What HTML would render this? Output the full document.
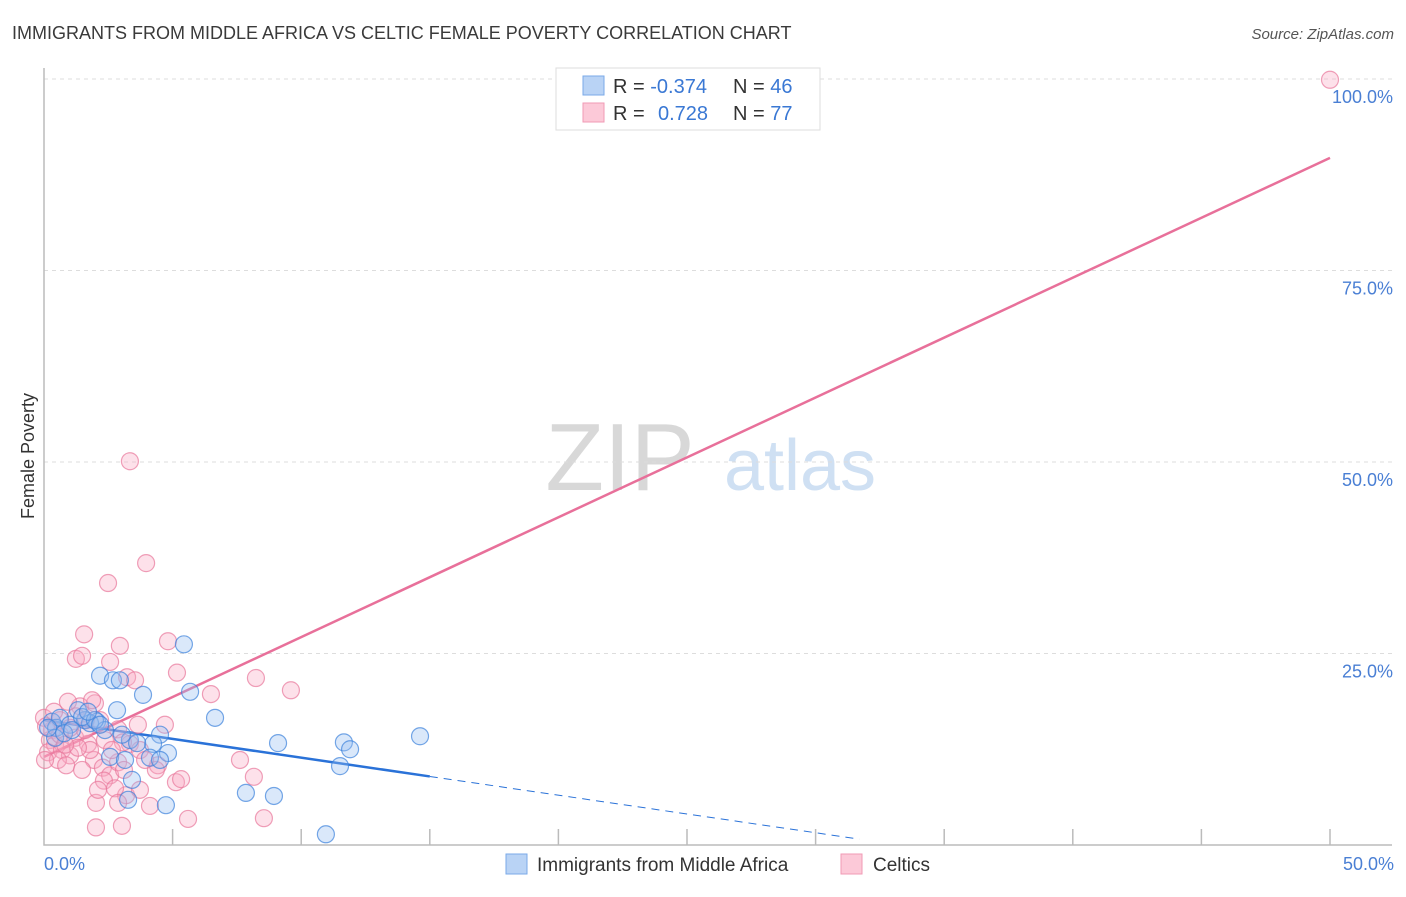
<!DOCTYPE html>
<html><head><meta charset="utf-8">
<style>
body{margin:0;background:#fff;font-family:"Liberation Sans",sans-serif;}
svg text{font-family:"Liberation Sans",sans-serif;}
</style></head>
<body>
<svg id="chart" width="1406" height="892" xmlns="http://www.w3.org/2000/svg">
<text x="12" y="39" font-size="18" fill="#3a3a3a">IMMIGRANTS FROM MIDDLE AFRICA VS CELTIC FEMALE POVERTY CORRELATION CHART</text>
<text x="1394" y="39" font-size="15" fill="#555" text-anchor="end" font-style="italic">Source: ZipAtlas.com</text>
<g>
<text x="620" y="490" font-size="96" fill="#d8d8d8" font-family="Liberation Serif" text-anchor="middle">ZIP</text>
<text x="800" y="490" font-size="72" fill="#cfe0f3" text-anchor="middle">atlas</text>
</g>
<g id="grid"></g>
<g id="axes"></g>
<g id="lines"></g>
<g id="points"></g>
<text transform="translate(34,456) rotate(-90)" font-size="18" fill="#333" text-anchor="middle">Female Poverty</text>
<text x="44" y="870" font-size="18" fill="#4a7fd4">0.0%</text>
<text x="1394" y="870" font-size="18" fill="#4a7fd4" text-anchor="end">50.0%</text>
<g>
<rect x="556" y="68" width="264" height="62" fill="#fff" stroke="#ddd"/>
<rect x="583" y="76" width="21" height="19" fill="#b9d3f5" stroke="#7aa9e8"/>
<rect x="583" y="103" width="21" height="19" fill="#fcc9d8" stroke="#f09ab5"/>
<text x="613" y="93" font-size="20" fill="#333">R = <tspan fill="#3a78d4">-0.374</tspan></text>
<text x="733" y="93" font-size="20" fill="#333">N = <tspan fill="#3a78d4">46</tspan></text>
<text x="613" y="120" font-size="20" fill="#333">R =  <tspan fill="#3a78d4" x="658">0.728</tspan></text>
<text x="733" y="120" font-size="20" fill="#333">N = <tspan fill="#3a78d4">77</tspan></text>
</g>
<g>
<rect x="506" y="854" width="21" height="20" fill="#b9d3f5" stroke="#7aa9e8"/>
<text x="537" y="871" font-size="19" fill="#333">Immigrants from Middle Africa</text>
<rect x="841" y="854" width="21" height="20" fill="#fcc9d8" stroke="#f09ab5"/>
<text x="873" y="871" font-size="19" fill="#333">Celtics</text>
</g>
</svg>
<script>
const yTicks=[25,50,75,100];
const yTickLabels=["25.0%","50.0%","75.0%","100.0%"];
const xTicks=[5,10,15,20,25,30,35,40,45,50];
const blueX=[0.31,0.47,0.62,1.01,1.59,2.06,1.79,2.18,2.68,2.95,2.37,3.85,4.51,5.68,6.65,4.24,4.82,3.34,2.57,3.15,3.62,3.42,3.27,4.74,7.85,8.94,10.96,9.10,11.51,11.66,11.90,14.62,5.44,1.32,1.48,1.98,0.43,0.16,0.78,1.09,3.03,4.12,4.51,2.84,1.71,2.18];
const blueY=[16.1,15.3,16.6,15.7,16.3,16.1,15.9,22.1,21.5,21.5,15.0,19.6,14.4,20.0,16.6,13.2,12.0,13.7,11.5,11.1,13.3,8.5,5.9,5.2,6.8,6.4,1.4,13.3,10.3,13.4,12.5,14.2,26.2,17.6,16.7,16.3,14.0,15.3,14.6,15.0,14.4,11.4,11.1,17.6,17.4,15.7];
const pinkX=[50.0,3.34,3.97,2.49,1.56,2.95,1.24,1.48,2.57,3.23,4.82,5.17,6.49,9.60,8.24,1.98,1.40,1.24,2.18,2.88,0.62,0.31,0.23,0.43,0.16,0.70,1.01,0.54,0.86,1.21,1.71,1.94,2.29,2.57,3.34,3.73,4.43,4.35,4.70,3.65,2.37,3.07,2.88,3.11,5.13,5.33,2.33,3.19,2.76,2.02,2.88,4.12,5.60,2.02,3.03,8.55,8.16,7.62,0.0,0.08,0.39,0.93,1.59,1.79,0.62,0.04,1.32,1.01,2.64,2.10,3.73,3.93,1.48,0.82,1.87,3.54,1.63];
const pinkY=[99.9,50.1,36.8,34.2,27.5,26.0,24.3,24.7,23.9,21.9,26.6,22.5,19.7,20.2,21.8,18.5,18.1,16.8,16.3,15.1,16.3,15.0,13.7,13.1,12.1,12.4,11.7,11.1,10.4,14.0,13.2,11.1,10.1,9.1,13.2,12.4,10.4,9.8,15.7,15.7,13.7,13.4,10.8,9.8,8.2,8.6,8.4,6.5,7.4,5.5,5.5,5.1,3.4,2.3,2.5,3.5,8.9,11.1,16.6,15.5,17.4,18.7,15.0,12.4,14.4,11.1,12.7,15.3,12.4,7.2,7.2,11.1,9.8,13.1,18.9,21.5,16.3];
const blueFit=[16.3,-0.49];   // intercept, slope
const blueSolidEnd=15.0, blueDashEnd=31.7;
const pinkFit=[11.5,1.564];

const X0=44,X1=1330,Y0=845,Y100=79;
const sx=v=>X0+(X1-X0)*v/50;
const sy=v=>Y0-(Y0-Y100)*v/100;
const NS="http://www.w3.org/2000/svg";
function mk(tag,parent,attrs){const e=document.createElementNS(NS,tag);for(const k in attrs)e.setAttribute(k,attrs[k]);parent.appendChild(e);return e;}
const grid=document.getElementById('grid'),axes=document.getElementById('axes'),lines=document.getElementById('lines'),pts=document.getElementById('points');
yTicks.forEach((t,i)=>{
 const l=mk('line',grid,{x1:X0,x2:1394,y1:sy(t),y2:sy(t),stroke:'#ddd','stroke-dasharray':'4,4'});
 
 
 const tx=mk('text',grid,{x:1393,y:sy(t)+24,'font-size':18,fill:'#4a7fd4','text-anchor':'end'});
 tx.textContent=yTickLabels[i];
 
 
});
const ax=mk('path',axes,{d:`M${X0},68 V${Y0} H1392`,fill:'none',stroke:'#bbb','stroke-width':1.5});


xTicks.forEach(t=>{
 const l=mk('line',axes,{x1:sx(t),x2:sx(t),y1:Y0-16,y2:Y0,stroke:'#bbb','stroke-width':1.5});
 
 
});
const pl=mk('line',lines,{x1:sx(0),y1:sy(pinkFit[0]),x2:sx(50),y2:sy(pinkFit[0]+pinkFit[1]*50),stroke:'#e8709a','stroke-width':2.5});


const bl=mk('line',lines,{x1:sx(0),y1:sy(blueFit[0]),x2:sx(blueSolidEnd),y2:sy(blueFit[0]+blueFit[1]*blueSolidEnd),stroke:'#2a72d8','stroke-width':2.5});


const bd=mk('line',lines,{x1:sx(blueSolidEnd),y1:sy(blueFit[0]+blueFit[1]*blueSolidEnd),x2:sx(blueDashEnd),y2:sy(blueFit[0]+blueFit[1]*blueDashEnd),stroke:'#2a72d8','stroke-width':1,'stroke-dasharray':'8,6'});


pinkX.forEach((x,i)=>{
 const c=mk('circle',pts,{cx:sx(x),cy:sy(pinkY[i]),r:8.5,fill:'rgba(248,170,195,0.35)',stroke:'rgba(232,120,155,0.7)','stroke-width':1.2});
 
 
});
blueX.forEach((x,i)=>{
 const c=mk('circle',pts,{cx:sx(x),cy:sy(blueY[i]),r:8.5,fill:'rgba(150,190,240,0.35)',stroke:'rgba(60,130,220,0.7)','stroke-width':1.2});
 
 
});
</script>
</body></html>
